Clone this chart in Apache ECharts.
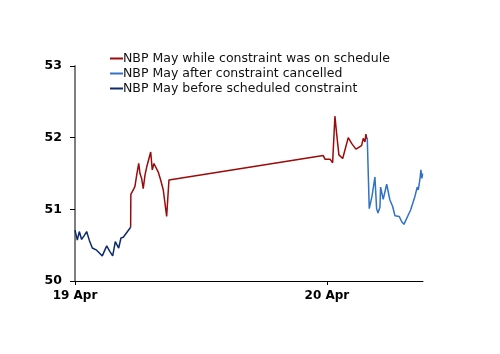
<!DOCTYPE html>
<html>
<head>
    <meta charset="utf-8">
    <script src="https://cdn.jsdelivr.net/npm/echarts@6.0.0/dist/echarts.min.js"></script>
    <style>
        body { margin: 0; background: #fff; }
    </style>
</head>
<body>
    <div id="main" style="width: 500px;height:354px;"></div>
    <script type="text/javascript">

// hours since 19 Apr 00:00
var before_hours = [0, 0.22, 0.41, 0.63, 0.86, 1.11, 1.36, 1.65, 2.06, 2.60, 2.76, 3.02, 3.33, 3.59, 3.84, 4.16, 4.38, 4.60, 5.30];
var before_prices = [50.71, 50.57, 50.69, 50.58, 50.63, 50.69, 50.57, 50.46, 50.43, 50.35, 50.35, 50.49, 50.41, 50.35, 50.55, 50.46, 50.60, 50.61, 50.75];

var while_hours = [5.30, 5.32, 5.55, 5.71, 5.88, 6.07, 6.19, 6.35, 6.50, 6.67, 6.83, 6.98, 7.21, 7.36, 7.52, 7.71, 7.93, 8.16, 8.41, 8.57, 8.73, 8.95,
    23.65, 23.81, 24.29, 24.54, 24.76, 24.92, 25.14, 25.50, 26.03, 26.35, 26.76, 27.30, 27.46, 27.62, 27.71, 27.78, 27.84];
var while_prices = [50.75, 51.21, 51.27, 51.32, 51.48, 51.64, 51.50, 51.43, 51.29, 51.48, 51.59, 51.59, 51.80, 51.55, 51.64, 51.62, 51.52, 51.41, 51.27, 51.25, 50.90, 51.41,
    51.75, 51.70, 51.70, 51.65, 52.30, 52.06, 51.76, 51.71, 52.00, 51.92, 51.84, 51.89, 51.99, 51.94, 52.05, 51.99, 52.00];

var after_hours = [27.84, 28.03, 28.29, 28.57, 28.73, 28.86, 29.05, 29.11, 29.36, 29.69, 30.00, 30.26, 30.48, 30.89, 31.11, 31.33, 31.52, 31.97, 32.38, 32.54, 32.60, 32.70, 32.86, 32.95, 33.05, 33.11];
var after_prices = [52.00, 51.01, 51.18, 51.45, 51.01, 50.95, 51.03, 51.31, 51.14, 51.35, 51.13, 51.04, 50.91, 50.90, 50.83, 50.79, 50.81, 50.99, 51.18, 51.20, 51.31, 51.27, 51.42, 51.55, 51.43, 51.50];

var tick_labels = {0: '19 Apr', 24: '20 Apr'};

function pairs(xs, ys) {
    var out = [];
    for (var i = 0; i < xs.length; i++) {
        out.push([xs[i], ys[i]]);
    }
    return out;
}

var fontFam = 'DejaVu Sans';

option = {
    animation: false,
    grid: {
        left: 75,
        right: 77,
        top: 66,
        bottom: 73
    },
    legend: {
        orient: 'vertical',
        left: 105,
        top: 47,
        itemWidth: 13,
        itemHeight: 2,
        itemGap: 2,
        icon: 'rect',
        textStyle: {
            fontFamily: fontFam,
            fontSize: 12.5,
            lineHeight: 13,
            color: '#111',
            padding: [0, 0, 0, -5]
        },
        data: ['NBP May while constraint was on schedule', 'NBP May after constraint cancelled', 'NBP May before scheduled constraint']
    },
    xAxis: {
        type: 'value',
        min: 0,
        max: 33.15,
        interval: 24,
        splitLine: { show: false },
        axisLine: { lineStyle: { color: '#000', width: 1 } },
        axisTick: { show: true, length: 4, lineStyle: { color: '#000' } },
        axisLabel: {
            showMaxLabel: false,
            fontFamily: fontFam,
            fontWeight: 'bold',
            fontSize: 12,
            color: '#000',
            margin: 9,
            formatter: function (v) { return tick_labels[v] || ''; }
        }
    },
    yAxis: {
        type: 'value',
        min: 50,
        max: 53,
        interval: 1,
        splitLine: { show: false },
        axisLine: { show: true, lineStyle: { color: '#7f7f7f', width: 2 } },
        axisTick: { show: true, length: 5, lineStyle: { color: '#000' } },
        axisLabel: {
            fontFamily: fontFam,
            fontWeight: 'bold',
            fontSize: 12.5,
            color: '#000',
            margin: 13
        }
    },
    series: [
        {
            name: 'NBP May while constraint was on schedule',
            type: 'line',
            symbol: 'none',
            lineStyle: { width: 1.5 },
            itemStyle: { color: '#9c0a0a' },
            data: pairs(while_hours, while_prices)
        },
        {
            name: 'NBP May after constraint cancelled',
            type: 'line',
            symbol: 'none',
            lineStyle: { width: 1.5 },
            itemStyle: { color: '#2f72c6' },
            data: pairs(after_hours, after_prices)
        },
        {
            name: 'NBP May before scheduled constraint',
            type: 'line',
            symbol: 'none',
            lineStyle: { width: 1.5 },
            itemStyle: { color: '#0d2a6b' },
            data: pairs(before_hours, before_prices)
        }
    ]
};

var myChart = echarts.init(document.getElementById('main'));
myChart.setOption(option);

    </script>
</body>
</html>
